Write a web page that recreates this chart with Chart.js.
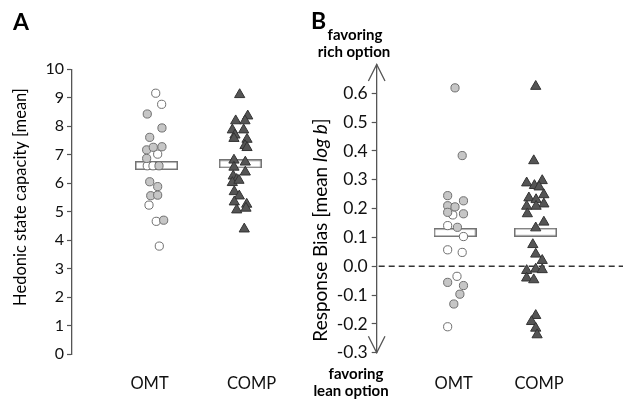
<!DOCTYPE html>
<html>
<head>
<meta charset="utf-8">
<script src="https://cdn.jsdelivr.net/npm/chart.js@4.4.1/dist/chart.umd.min.js"></script>
<style>
  html, body { margin: 0; padding: 0; background: #ffffff; }
  #wrap { position: relative; width: 623px; height: 399px; }
  canvas { position: absolute; left: 0; top: 0; }
</style>
</head>
<body>
<div id="wrap">
  <canvas id="chartA" width="623" height="399"></canvas>
  <canvas id="chartB" width="623" height="399"></canvas>
</div>
<script>
// ---------- categories ----------
const categories = ['OMT', 'COMP'];

// ---------- Panel A: Hedonic state capacity ----------
const hedonicOmtFilled  = [8.43, 7.94, 7.61, 7.17, 7.26, 7.28, 6.87, 6.61, 6.05, 5.88, 5.56, 5.58, 4.70];
const hedonicOmtFilledX = [0.978, 1.122, 1.002, 0.972, 1.037, 1.122, 0.972, 1.093, 1.002, 1.080, 1.012, 1.080, 1.139];
const hedonicOmtOpen    = [9.16, 8.77, 7.02, 6.61, 6.61, 5.23, 4.66, 3.79];
const hedonicOmtOpenX   = [1.061, 1.119, 1.080, 0.978, 1.034, 0.995, 1.066, 1.096];
const hedonicComp  = [9.11, 8.36, 8.19, 8.19, 7.87, 7.87, 7.69, 7.57, 7.54, 7.32, 7.25, 6.81, 6.74, 6.56, 6.39, 6.25, 6.13, 6.02, 6.10, 5.70, 5.55, 5.34, 5.26, 5.06, 5.12, 4.39];
const hedonicCompX = [1.884, 1.963, 1.845, 1.936, 1.812, 1.923, 1.838, 1.828, 1.956, 1.936, 1.956, 1.828, 1.939, 1.828, 1.939, 1.821, 1.855, 1.812, 1.877, 1.831, 1.880, 1.831, 1.953, 1.855, 1.946, 1.929];
const hedonicMeans  = [6.62, 6.68];
const hedonicMeansX = [1.068, 1.890];
const hedonicTicks = [0, 1, 2, 3, 4, 5, 6, 7, 8, 9, 10];

// ---------- Panel B: Response bias (log b) ----------
const biasOmtFilled  = [0.619, 0.384, 0.245, 0.227, 0.210, 0.206, 0.187, 0.182, 0.135, -0.056, -0.067, -0.097, -0.131];
const biasOmtFilledX = [1.016, 1.100, 0.930, 1.115, 0.930, 1.016, 0.930, 1.115, 1.044, 0.930, 1.115, 1.073, 1.002];
const biasOmtOpen    = [0.178, 0.141, 0.103, 0.057, 0.048, -0.035, -0.210];
const biasOmtOpenX   = [0.990, 0.930, 1.115, 0.930, 1.100, 1.039, 0.930];
const biasComp  = [0.624, 0.366, 0.289, 0.280, 0.297, 0.275, 0.237, 0.248, 0.231, 0.208, 0.216, 0.208, 0.182, 0.153, 0.133, 0.075, 0.042, 0.020, -0.015, -0.010, -0.012, -0.041, -0.047, -0.171, -0.192, -0.215, -0.238];
const biasCompX = [1.960, 1.937, 1.854, 1.945, 2.036, 1.999, 1.880, 2.055, 1.964, 1.854, 2.055, 1.964, 1.862, 2.055, 1.960, 1.926, 1.960, 2.036, 1.854, 1.960, 2.036, 1.854, 1.937, 1.960, 1.911, 1.960, 1.976];
const biasMeans  = [0.117, 0.118];
const biasMeansX = [1.016, 1.957];
const biasTicks = [-0.3, -0.2, -0.1, 0.0, 0.1, 0.2, 0.3, 0.4, 0.5, 0.6];

// ---------- helpers ----------
const FONT = 'Lato, "Open Sans", "Liberation Sans", sans-serif';
const pts = (ys, xs) => ys.map((y, i) => ({ x: xs[i], y: y }));

function meanBox(w, h) {
  const c = document.createElement('canvas');
  c.width = w; c.height = h;
  const g = c.getContext('2d');
  g.fillStyle = '#ffffff';
  g.fillRect(0, 0, w, h);
  g.strokeStyle = '#737373';
  g.lineWidth = 1.5;
  g.strokeRect(0.75, 0.75, w - 1.5, h - 1.5);
  return c;
}
const meanImg = meanBox(43, 9);

const circleFilled = { pointStyle: 'circle', pointRadius: 4.1, backgroundColor: '#c6c6c6', borderColor: '#6f6f6f', borderWidth: 1 };
const circleOpen   = { pointStyle: 'circle', pointRadius: 4.1, backgroundColor: '#ffffff', borderColor: '#6f6f6f', borderWidth: 1 };
const triangle     = { pointStyle: 'triangle', pointRadius: 5.9, backgroundColor: '#555555', borderColor: '#333333', borderWidth: 1 };
const meanStyle    = { pointStyle: meanImg, pointRadius: 5, backgroundColor: '#ffffff', borderColor: '#737373', order: 10 };

Chart.defaults.font.family = FONT;
Chart.defaults.color = '#111111';

// ---------- Panel A ----------
const panelAText = {
  id: 'panelAText',
  afterDraw(chart) {
    const ctx = chart.ctx;
    ctx.save();
    ctx.fillStyle = '#000';
    ctx.font = 'bold 23px ' + FONT;
    ctx.textAlign = 'left';
    ctx.textBaseline = 'alphabetic';
    ctx.fillText('A', 13, 30);
    ctx.translate(21, 197);
    ctx.rotate(-Math.PI / 2);
    ctx.font = '16.5px ' + FONT;
    ctx.textAlign = 'center';
    ctx.textBaseline = 'middle';
    ctx.fillText('Hedonic state capacity [mean]', 0, 0);
    ctx.restore();
  }
};

new Chart(document.getElementById('chartA'), {
  type: 'scatter',
  data: {
    datasets: [
      Object.assign({ data: pts(hedonicOmtFilled, hedonicOmtFilledX), order: 1 }, circleFilled),
      Object.assign({ data: pts(hedonicOmtOpen, hedonicOmtOpenX), order: 1 }, circleOpen),
      Object.assign({ data: pts(hedonicComp, hedonicCompX), order: 1 }, triangle),
      Object.assign({ data: pts(hedonicMeans, hedonicMeansX) }, meanStyle)
    ]
  },
  options: {
    responsive: false,
    animation: false,
    layout: { padding: { left: 0, top: 69.3, right: 320.5, bottom: 0 } },
    plugins: { legend: { display: false }, tooltip: { enabled: false } },
    scales: {
      x: {
        type: 'linear', min: 0.24, max: 2.5,
        afterBuildTicks: s => { s.ticks = [{ value: 1 }, { value: 2 }]; },
        afterFit: s => { s.height = 45; },
        grid: { display: false },
        border: { display: false },
        ticks: { padding: 12, font: { size: 16.5 }, color: '#111', callback: v => categories[Math.round(v) - 1] }
      },
      y: {
        min: 0, max: 10,
        afterBuildTicks: s => { s.ticks = hedonicTicks.map(v => ({ value: v })); },
        afterFit: s => { s.width = 72; },
        grid: { drawOnChartArea: false, drawTicks: true, tickLength: 5, tickColor: '#555', tickWidth: 1.2 },
        border: { display: true, color: '#555', width: 1.3 },
        ticks: { padding: 3, font: { size: 16 }, color: '#111' }
      }
    }
  },
  plugins: [panelAText]
});

// ---------- Panel B ----------
const panelBDecor = {
  id: 'panelBDecor',
  beforeDatasetsDraw(chart) {
    const ctx = chart.ctx, ys = chart.scales.y, area = chart.chartArea;
    const y0 = ys.getPixelForValue(0);
    ctx.save();
    ctx.strokeStyle = '#333';
    ctx.lineWidth = 1.3;
    ctx.setLineDash([6, 4]);
    ctx.beginPath();
    ctx.moveTo(area.left + 2, y0);
    ctx.lineTo(623, y0);
    ctx.stroke();
    ctx.restore();
  },
  afterDraw(chart) {
    const ctx = chart.ctx, area = chart.chartArea;
    const ax = area.left;
    ctx.save();
    // arrowheads on the y axis
    ctx.strokeStyle = '#555';
    ctx.lineWidth = 1.3;
    ctx.beginPath();
    ctx.moveTo(ax - 8.3, area.top + 16.5); ctx.lineTo(ax, area.top); ctx.lineTo(ax + 8.3, area.top + 16.5);
    ctx.moveTo(ax - 8.3, area.bottom - 16.5); ctx.lineTo(ax, area.bottom); ctx.lineTo(ax + 8.3, area.bottom - 16.5);
    ctx.stroke();
    // panel letter
    ctx.fillStyle = '#000';
    ctx.font = 'bold 23px ' + FONT;
    ctx.textAlign = 'left';
    ctx.fillText('B', 311, 29);
    // direction labels
    ctx.font = 'bold 15px ' + FONT;
    ctx.textAlign = 'center';
    ctx.fillText('favoring', 355, 40);
    ctx.fillText('rich option', 354, 57);
    ctx.fillText('favoring', 356, 379);
    ctx.fillText('lean option', 351, 396);
    // y title with italic part
    ctx.translate(321, 230);
    ctx.rotate(-Math.PI / 2);
    const parts = [['Response Bias [mean ', '19px '], ['log b', 'italic 19px '], [']', '19px ']];
    let total = 0;
    parts.forEach(p => { ctx.font = p[1] + FONT; total += ctx.measureText(p[0]).width; });
    let x = -total / 2;
    ctx.textAlign = 'left';
    ctx.textBaseline = 'middle';
    parts.forEach(p => { ctx.font = p[1] + FONT; ctx.fillText(p[0], x, 0); x += ctx.measureText(p[0]).width; });
    ctx.restore();
  }
};

new Chart(document.getElementById('chartB'), {
  type: 'scatter',
  data: {
    datasets: [
      Object.assign({ data: pts(biasOmtFilled, biasOmtFilledX), order: 1 }, circleFilled),
      Object.assign({ data: pts(biasOmtOpen, biasOmtOpenX), order: 1 }, circleOpen),
      Object.assign({ data: pts(biasComp, biasCompX), order: 1 }, triangle),
      Object.assign({ data: pts(biasMeans, biasMeansX) }, meanStyle)
    ]
  },
  options: {
    responsive: false,
    animation: false,
    layout: { padding: { left: 316.7, top: 64.5, right: 0, bottom: 0 } },
    plugins: { legend: { display: false }, tooltip: { enabled: false } },
    scales: {
      x: {
        type: 'linear', min: 0.1, max: 2.9,
        afterBuildTicks: s => { s.ticks = [{ value: 1 }, { value: 2 }]; },
        afterFit: s => { s.height = 46.3; },
        grid: { display: false },
        border: { display: false },
        ticks: { padding: 13.5, font: { size: 16.5 }, color: '#111', callback: v => categories[Math.round(v) - 1] }
      },
      y: {
        min: -0.3, max: 0.7,
        afterBuildTicks: s => { s.ticks = biasTicks.map(v => ({ value: v })); },
        afterFit: s => { s.width = 60; },
        grid: { drawOnChartArea: false, drawTicks: true, tickLength: 5, tickColor: '#555', tickWidth: 1.2 },
        border: { display: true, color: '#555', width: 1.3 },
        ticks: { padding: 4, font: { size: 17.5 }, color: '#111', callback: v => Number(v).toFixed(1) }
      }
    }
  },
  plugins: [panelBDecor]
});
</script>
</body>
</html>
